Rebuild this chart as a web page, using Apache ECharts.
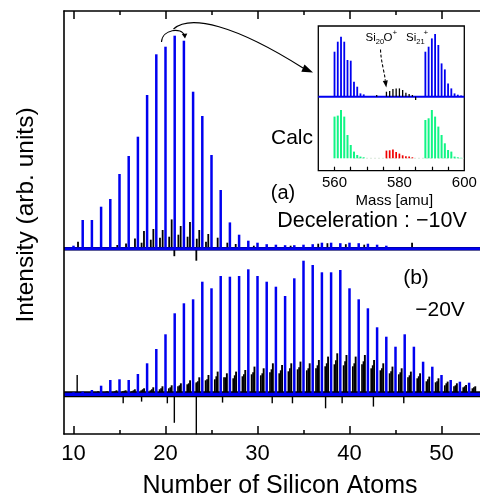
<!DOCTYPE html>
<html>
<head>
<meta charset="utf-8">
<script src="https://cdn.jsdelivr.net/npm/echarts@6/dist/echarts.min.js"></script>
<style>
  html, body { margin: 0; padding: 0; background: #fff; }
  #chart { width: 480px; height: 497px; }
</style>
</head>
<body>
<div id="chart"></div>
<script>
const FONT = '"Liberation Sans", Arial, Helvetica, sans-serif';

// ---- Panel (a): deceleration -10 V ----
// Si_n+ peak heights (arb. units) for cluster sizes n
const sizesA = [10, 11, 12, 13, 14, 15, 16, 17, 18, 19, 20, 21, 22, 23, 24, 25, 26, 27,
                28, 29, 30, 31, 32, 33, 34, 35, 36, 37, 38, 39, 40, 41, 42, 43, 44];
const siA = [3, 28.7, 28.7, 42, 49.7, 74.7, 92.7, 112, 153.7, 194.4, 202, 213, 208, 157,
             132.7, 93.7, 58.7, 26.3, 14, 8, 6, 4.5, 4, 3.5, 3.5, 4, 4.5, 6, 6, 5.5, 6, 5.5, 5, 4, 3];
// other ions (oxides etc.), position in units of n and height
const otherPosA = [10.49, 14.76, 15.71, 16.68, 17.66, 18.68, 19.69, 20.67, 21.65, 22.66, 23.67,
                   24.65, 25.67, 26.72, 27.63, 29.6, 33.6, 36.6, 37.6, 39.6, 41.6, 46.8, 20.96, 23.35,
                   17.4, 18.4, 19.4, 20.4, 21.4, 22.4, 23.4, 24.4];
const otherA = [7, 3.7, 5.3, 10.3, 17.7, 19.7, 18.7, 29.3, 22.7, 26.7, 18.7,
                14.7, 11, 6, 4.7, 3, 3, 5, 5.5, 4.5, 4, 6, -7.5, -12,
                6, 9, 11, 12, 14, 12, 10, 7];

// ---- Panel (b): deceleration -20 V ----
const sizesB = [10, 11, 12, 13, 14, 15, 16, 17, 18, 19, 20, 21, 22, 23, 24, 25, 26, 27, 28, 29, 30, 31,
                32, 33, 34, 35, 36, 37, 38, 39, 40, 41, 42, 43, 44, 45, 46, 47, 48, 49, 50, 51, 52, 53];
const siB = [2, 2.7, 4.3, 8.6, 14.3, 15, 14.3, 20.3, 31, 45.3, 60, 81, 91, 95, 112.6, 106, 118.3,
             117.6, 118.3, 125, 118.3, 112.6, 107.6, 98.3, 116, 133.6, 129.3, 122, 122, 124.3,
             106, 95, 86, 67, 57.6, 47.6, 60, 47.6, 32.6, 27.6, 19.3, 14.3, 12.6, 11.6];
// oxide groups sitting between the Si_n peaks (n + 18, n + 14 and n + 10 amu)
const oxSizesB = [12, 13, 14, 15, 16, 17, 18, 19, 20, 21, 22, 23, 24, 25, 26, 27, 28, 29, 30, 31, 32,
                  33, 34, 35, 36, 37, 38, 39, 40, 41, 42, 43, 44, 45, 46, 47, 48, 49, 50, 51, 52, 53];
const oxHighB = [3, 3, 4, 4, 5, 6, 7, 8, 9, 11, 14, 17, 19.3, 22.7, 21, 22.7, 24.3, 27.7, 26, 31, 29.3,
                 31, 32.7, 31, 34.3, 37.7, 41, 39.3, 37.7, 39.3, 34.3, 31, 27.7, 26, 22.7, 21, 17.7,
                 16, 12.7, 11, 9.3, 8];
const oxMidB = [2, 2.5, 3, 3.5, 4, 5, 5, 6, 7, 9, 11, 13, 15, 18, 17, 19, 20, 22, 21, 25, 24,
                26, 27, 26, 29, 31, 34, 33, 31, 33, 29, 26, 23, 22, 19, 18, 15, 13, 11, 9, 8, 7];
const oxLowB = [2, 2, 2.5, 3, 3, 4, 4, 5, 6, 8, 10, 12, 14, 15, 17, 16, 18, 20, 19, 22, 21,
                23, 25, 24, 26, 28, 30, 29, 28, 30, 26, 24, 21, 20, 17, 16, 13, 12, 9, 8, 7, 6];
// isolated spikes and dips in the -20 V trace
const spikePosB = [10.4, 15.4, 17.4, 20.2, 20.96, 23.35, 23.35, 26.2, 31.6, 33.8, 37.4, 39.2, 42.6, 45.9];
const spikeB = [19.3, -9, -7.3, -9, -28.5, 11, -40, -8.3, -9, -9, -14, -9, -12.3, -9];

const OX_SHIFT_HIGH = 0.67;   // (28n + 18) / 28
const OX_SHIFT_MID = 0.52;    // (28n + 14.5) / 28
const OX_SHIFT_LOW = 0.36;    // (28n + 10) / 28

// ---- Inset: mass spectrum around Si20+ / Si21+ ----
const massSi20 = [560, 561, 562, 563, 564, 565, 566, 567, 568, 569];
const expSi20 = [45, 55, 60, 55, 36.7, 36, 15, 10, 3.3, 2.3];
const calcSi20 = [41.7, 42.7, 48.3, 41.7, 23.3, 13.3, 6.7, 3.3, 1.7, 1];
const massSi21 = [588, 589, 590, 591, 592, 593, 594, 595, 596, 597, 598, 599];
const expSi21 = [45, 50, 58.3, 62.7, 51.7, 33.3, 27.3, 13.3, 8.3, 3.3, 2, 1.3];
const calcSi21 = [38.3, 40, 48.3, 41.7, 31.7, 23.3, 15, 8.3, 6.7, 1.7, 1, 0.5];
const massSi20O = [573, 576, 577, 578, 579, 580, 581, 582, 583, 584, 585];
const expSi20O = [1.7, 5, 5.7, 7.7, 8.3, 8.3, 6.7, 4, 2.7, 1.7, -3.3];
const massCalcSi20O = [576, 577, 578, 579, 580, 581, 582, 583, 584];
const calcSi20O = [7.7, 8, 8.7, 6.3, 4.7, 3, 2, 1.7, 1];

// ---- axes ----
const xMajor = [10, 20, 30, 40, 50];
const xMinor = [15, 25, 35, 45];
const massTicks = [560, 565, 570, 575, 580, 585, 590, 595];
const massLabels = [560, 580, 600];

// 9.2 px per cluster size; the frame continues past the right edge of the page
const X_MIN = 10 - 9.5 / 9.2;
const X_MAX = X_MIN + 416 / 9.2;
const M_MIN = 555, M_MAX = 600;

const zip = (xs, ys, shift) => xs.map((x, i) => [x + (shift || 0), ys[i]]);

function spikes(color, width) {
  return function (params, api) {
    const x = api.value(0);
    const p0 = api.coord([x, 0]);
    const p1 = api.coord([x, api.value(1)]);
    return {
      type: 'line',
      shape: { x1: p0[0], y1: p0[1], x2: p1[0], y2: p1[1] },
      style: { stroke: color, lineWidth: width }
    };
  };
}
function spikeSeries(data, color, width, xi, yi, z) {
  return {
    type: 'custom', xAxisIndex: xi, yAxisIndex: yi, data: data,
    encode: { x: 0, y: 1 }, renderItem: spikes(color, width),
    silent: true, z: z || 3
  };
}
function baseline(xmin, xmax, color, width, xi, yi, z, dash) {
  return {
    type: 'line', xAxisIndex: xi, yAxisIndex: yi, data: [[xmin, 0], [xmax, 0]],
    symbol: 'none', silent: true, z: z || 2,
    lineStyle: { color: color, width: width, type: dash || 'solid' }
  };
}

const BLUE = '#0000f0';
const GREEN = '#10f585';
const RED = '#f00000';

function tickAxis(gridIndex, position, values, len, withLabels, withLine) {
  return {
    type: 'value', gridIndex: gridIndex, position: position,
    min: X_MIN, max: X_MAX,
    axisLine: { show: !!withLine, onZero: false, lineStyle: { color: '#000', width: 1.6 } },
    splitLine: { show: false },
    axisTick: { show: true, inside: true, length: len, customValues: values,
                lineStyle: { color: '#000', width: 1.5 } },
    axisLabel: withLabels
      ? { show: true, customValues: values, fontSize: 22, fontFamily: FONT, color: '#000', margin: 9 }
      : { show: false },
    z: 10
  };
}

const chart = echarts.init(document.getElementById('chart'), null, { renderer: 'canvas' });

const option = {
  animation: false,
  backgroundColor: '#fff',
  grid: [
    { left: 64, top: 11, width: 416, height: 423 },
    { left: 318.3, top: 26, width: 146, height: 144.7, show: true, borderColor: '#000', borderWidth: 1.3,
      backgroundColor: '#fff', z: 5 },
    { left: 318.3, top: 26, width: 146, height: 74 },
    { left: 318.3, top: 96.7, width: 146, height: 61.6 }
  ],
  xAxis: [
    tickAxis(0, 'bottom', xMajor, 8, true, true),
    tickAxis(0, 'bottom', xMinor, 4, false, false),
    tickAxis(0, 'top', xMajor, 8, false, true),
    tickAxis(0, 'top', xMinor, 4, false, false),
    { type: 'value', gridIndex: 1, min: M_MIN, max: M_MAX, z: 6,
      axisLine: { show: false }, splitLine: { show: false },
      axisTick: { show: true, inside: true, length: 4, customValues: massTicks,
                  lineStyle: { color: '#000', width: 1.2 } },
      axisLabel: { show: true, customValues: massLabels, fontSize: 15, fontFamily: FONT,
                   color: '#000', margin: 5 },
      name: 'Mass [amu]', nameLocation: 'middle', nameGap: 23,
      nameTextStyle: { fontSize: 15, fontFamily: FONT, color: '#000', padding: [0, 0, 0, 6] } },
    { type: 'value', gridIndex: 2, min: M_MIN, max: M_MAX, show: false },
    { type: 'value', gridIndex: 3, min: M_MIN, max: M_MAX, show: false }
  ],
  yAxis: [
    { type: 'value', gridIndex: 0, min: -185.3, max: 237.7, position: 'left', z: 10,
      axisLine: { show: true, onZero: false, lineStyle: { color: '#000', width: 1.6 } },
      axisTick: { show: false }, axisLabel: { show: false }, splitLine: { show: false } },
    { type: 'value', gridIndex: 0, min: -39.7, max: 383.3, show: false },
    { type: 'value', gridIndex: 1, min: 0, max: 1, show: false },
    { type: 'value', gridIndex: 2, min: -3.3, max: 70.7, show: false },
    { type: 'value', gridIndex: 3, min: 0, max: 61.6, show: false }
  ],
  series: [
    // panel (b), -20 V
    baseline(X_MIN, X_MAX, '#000', 6, 0, 1, 2),
    spikeSeries(zip(oxSizesB, oxLowB, OX_SHIFT_LOW), '#000', 1.7, 0, 1, 3),
    spikeSeries(zip(oxSizesB, oxMidB, OX_SHIFT_MID), '#000', 1.7, 0, 1, 3),
    spikeSeries(zip(oxSizesB, oxHighB, OX_SHIFT_HIGH), '#000', 1.9, 0, 1, 3),
    spikeSeries(zip(spikePosB, spikeB), '#000', 1.4, 0, 1, 3),
    baseline(X_MIN, X_MAX, BLUE, 3.2, 0, 1, 4),
    spikeSeries(zip(sizesB, siB), BLUE, 2.5, 0, 1, 5),
    // panel (a), -10 V
    baseline(X_MIN, X_MAX, '#000', 3.5, 0, 0, 2),
    spikeSeries(zip(otherPosA, otherA), '#000', 1.8, 0, 0, 3),
    baseline(X_MIN, X_MAX, BLUE, 3, 0, 0, 4),
    spikeSeries(zip(sizesA, siA), BLUE, 2.5, 0, 0, 5),
    // inset, measured
    baseline(M_MIN, M_MAX, BLUE, 2, 5, 3, 7),
    spikeSeries(zip(massSi20O, expSi20O), '#000', 1.3, 5, 3, 8),
    spikeSeries(zip(massSi20, expSi20).concat(zip(massSi21, expSi21)), BLUE, 1.8, 5, 3, 8),
    // inset, calculated
    baseline(566, M_MAX, '#cfe0cf', 1, 6, 4, 7, [2, 2]),
    spikeSeries(zip(massSi20, calcSi20).concat(zip(massSi21, calcSi21)), GREEN, 2, 6, 4, 8),
    spikeSeries(zip(massCalcSi20O, calcSi20O), RED, 1.7, 6, 4, 8)
  ],
  graphic: [
    // axis titles
    { type: 'text', x: 280, y: 486, z: 100,
      style: { text: 'Number of Silicon Atoms', font: '25px ' + FONT, fill: '#000',
               align: 'center', verticalAlign: 'middle' } },
    { type: 'text', x: 26, y: 215, rotation: Math.PI / 2, z: 100,
      style: { text: 'Intensity (arb. units)', font: '24.5px ' + FONT, fill: '#000',
               align: 'center', verticalAlign: 'middle' } },
    // panel labels
    { type: 'text', x: 283, y: 193, z: 100,
      style: { text: '(a)', font: '20px ' + FONT, fill: '#000', align: 'center', verticalAlign: 'middle' } },
    { type: 'text', x: 372, y: 221.5, z: 100,
      style: { text: 'Deceleration : \u221210V', font: '21.5px ' + FONT, fill: '#000',
               align: 'center', verticalAlign: 'middle' } },
    { type: 'text', x: 416, y: 278.5, z: 100,
      style: { text: '(b)', font: '21px ' + FONT, fill: '#000', align: 'center', verticalAlign: 'middle' } },
    { type: 'text', x: 440, y: 310, z: 100,
      style: { text: '\u221220V', font: '21px ' + FONT, fill: '#000', align: 'center', verticalAlign: 'middle' } },
    { type: 'text', x: 292, y: 138, z: 100,
      style: { text: 'Calc', font: '21px ' + FONT, fill: '#000', align: 'center', verticalAlign: 'middle' } },
    // inset ion labels: Si20O+ and Si21+
    { type: 'text', x: 365.5, y: 37.5, z: 100,
      style: { text: 'Si', font: '11.5px ' + FONT, fill: '#000', align: 'left', verticalAlign: 'middle' } },
    { type: 'text', x: 375.8, y: 41.5, z: 100,
      style: { text: '20', font: '7.5px ' + FONT, fill: '#000', align: 'left', verticalAlign: 'middle' } },
    { type: 'text', x: 383.4, y: 37.5, z: 100,
      style: { text: 'O', font: '11.5px ' + FONT, fill: '#000', align: 'left', verticalAlign: 'middle' } },
    { type: 'text', x: 392.4, y: 32.5, z: 100,
      style: { text: '+', font: '8px ' + FONT, fill: '#000', align: 'left', verticalAlign: 'middle' } },
    { type: 'text', x: 406, y: 37.5, z: 100,
      style: { text: 'Si', font: '11.5px ' + FONT, fill: '#000', align: 'left', verticalAlign: 'middle' } },
    { type: 'text', x: 416.3, y: 41.5, z: 100,
      style: { text: '21', font: '7.5px ' + FONT, fill: '#000', align: 'left', verticalAlign: 'middle' } },
    { type: 'text', x: 423.5, y: 32.5, z: 100,
      style: { text: '+', font: '8px ' + FONT, fill: '#000', align: 'left', verticalAlign: 'middle' } },
    // dashed pointer to the Si20O+ group
    { type: 'bezierCurve', z: 100,
      shape: { x1: 380.5, y1: 49.5, cpx1: 381, cpy1: 62, cpx2: 384.5, cpy2: 72, x2: 385.3, y2: 80.6 },
      style: { stroke: '#000', lineWidth: 1.1, fill: null, lineDash: [3, 2] } },
    { type: 'polygon', z: 100,
      shape: { points: [[386.3, 87.5], [382.8, 80.9], [387.8, 80.3]] },
      style: { fill: '#000' } },
    // bracket over the strongest peaks
    { type: 'bezierCurve', z: 100,
      shape: { x1: 161.5, y1: 42, cpx1: 162, cpy1: 29, cpx2: 182, cpy2: 27, x2: 184.3, y2: 35.5 },
      style: { stroke: '#000', lineWidth: 1.1, fill: null } },
    { type: 'polygon', z: 100,
      shape: { points: [[185, 38.5], [181.8, 34], [187.3, 33.6]] },
      style: { fill: '#000' } },
    // arrow to the inset
    { type: 'bezierCurve', z: 100,
      shape: { x1: 173.5, y1: 29, cpx1: 190, cpy1: 14, cpx2: 235, cpy2: 25, x2: 303, y2: 68 },
      style: { stroke: '#000', lineWidth: 1.2, fill: null } },
    { type: 'polygon', z: 100,
      shape: { points: [[313, 72.5], [301.3, 71.8], [304.5, 64.4]] },
      style: { fill: '#000' } }
  ]
};

chart.setOption(option);
</script>
</body>
</html>
